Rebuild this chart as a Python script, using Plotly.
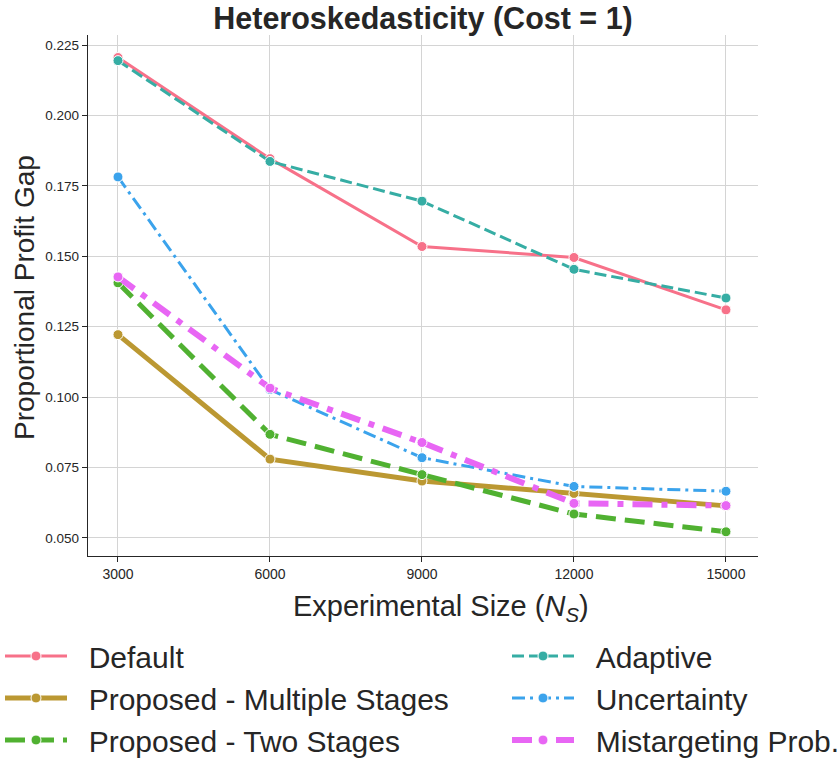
import plotly.graph_objects as go

# Experimental sizes on the x axis
sizes = [3000, 6000, 9000, 12000, 15000]

# Proportional profit gap per method
default_gap = [0.2206, 0.1847, 0.1535, 0.1496, 0.1310]
multi_stage_gap = [0.1222, 0.0780, 0.0702, 0.0658, 0.0614]
two_stage_gap = [0.1406, 0.0868, 0.0725, 0.0585, 0.0522]
adaptive_gap = [0.2195, 0.1837, 0.1696, 0.1454, 0.1352]
uncertainty_gap = [0.1782, 0.1027, 0.0785, 0.0683, 0.0666]
mistarget_gap = [0.1427, 0.1032, 0.0839, 0.0623, 0.0615]

y_ticks = [0.050, 0.075, 0.100, 0.125, 0.150, 0.175, 0.200, 0.225]

# name, values, colour, width, dash, legend column
series = [
    ("Default", default_gap, "#f77189", 3, "solid", "legend"),
    ("Proposed - Multiple Stages", multi_stage_gap, "#bb9832", 5, "solid", "legend"),
    ("Proposed - Two Stages", two_stage_gap, "#50b131", 5, "20px,9px", "legend"),
    ("Adaptive", adaptive_gap, "#36ada4", 3, "12px,5px", "legend2"),
    ("Uncertainty", uncertainty_gap, "#3ba3ec", 3, "13px,5px,3px,5px", "legend2"),
    ("Mistargeting Prob.", mistarget_gap, "#e866f4", 6, "20px,9px,6px,9px", "legend2"),
]

PAD = "\u00a0\u00a0"  # gap between legend glyph and label

fig = go.Figure()
for i, (name, vals, color, width, dash, leg) in enumerate(series):
    fig.add_trace(go.Scatter(
        x=sizes, y=vals, name=PAD + name, mode="lines+markers",
        line=dict(color=color, width=width, dash=dash),
        marker=dict(color=color, size=10, line=dict(color="white", width=1)),
        legend=leg, legendgroup=f"g{i}",
    ))

font_family = "Liberation Sans, Arial, sans-serif"
text_color = "#262626"
legend_common = dict(
    orientation="v", xref="container", yref="container",
    yanchor="top", xanchor="left",
    font=dict(size=30, color=text_color), itemwidth=62,
    tracegroupgap=0, bgcolor="rgba(0,0,0,0)",
)

W, H = 840, 761
fig.update_layout(
    width=W, height=H,
    margin=dict(l=88, r=82, t=35, b=205, autoexpand=False),
    paper_bgcolor="white", plot_bgcolor="white",
    font=dict(family=font_family, color=text_color),
    title=dict(text="<b>Heteroskedasticity (Cost = 1)</b>",
               font=dict(size=30.5, color=text_color),
               x=0.5, xref="paper", y=1 - 18 / H, yref="container",
               xanchor="center", yanchor="middle"),
    xaxis=dict(range=[2408, 15632], tickvals=sizes,
               ticktext=[str(s) for s in sizes],
               showgrid=True, gridcolor="#d4d4d4", gridwidth=1,
               showline=True, linecolor=text_color, linewidth=1.3,
               ticks="outside", ticklen=5, tickcolor=text_color,
               tickfont=dict(size=14), zeroline=False),
    yaxis=dict(range=[0.0436, 0.2286], tickvals=y_ticks,
               ticktext=[f"{v:.3f}" for v in y_ticks],
               showgrid=True, gridcolor="#d4d4d4", gridwidth=1,
               showline=True, linecolor=text_color, linewidth=1.3,
               ticks="outside", ticklen=5, tickcolor=text_color,
               tickfont=dict(size=13.5), zeroline=False),
    legend=dict(x=0.0, y=1 - 630 / H, **legend_common),
    legend2=dict(x=507 / W, y=1 - 630 / H, **legend_common),
    showlegend=True,
    annotations=[
        # axis titles placed in page coordinates
        dict(text="Experimental Size (<i>N</i><sub><i>S</i></sub>)",
             xref="paper", yref="paper",
             x=(441 - 88) / 670, y=-(608 - 556) / 521,
             xanchor="center", yanchor="middle", showarrow=False,
             font=dict(size=29, color=text_color)),
        dict(text="Proportional Profit Gap", textangle=-90,
             xref="paper", yref="paper",
             x=-(88 - 24) / 670, y=(556 - 298) / 521,
             xanchor="center", yanchor="middle", showarrow=False,
             font=dict(size=28, color=text_color)),
    ],
)

fig.write_html("out.html")
